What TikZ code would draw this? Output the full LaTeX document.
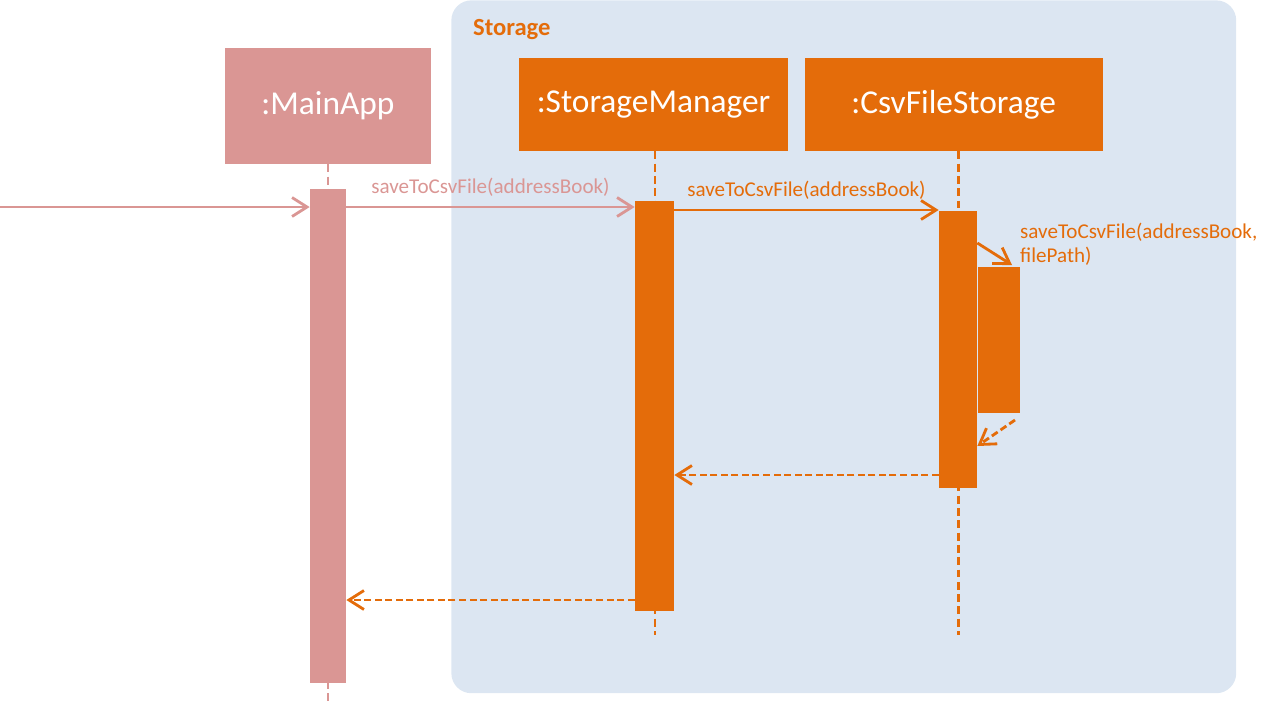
\documentclass[tikz,border=0pt]{standalone}
\usepackage{fontspec}
\setmainfont{Carlito}
\usetikzlibrary{positioning, arrows.meta}
\definecolor{mainpink}{RGB}{218,150,148}
\definecolor{storeorange}{RGB}{228,108,10}
\definecolor{storebg}{RGB}{220,230,242}

\begin{document}
\begin{tikzpicture}[
      x=0.02cm, y=-0.02cm,
      % 参加者の箱
      actor/.style={rectangle, text=white, inner sep=0pt, minimum height=1.86cm, font=\fontsize{19}{21}\selectfont},
      % 生存線と活性区間
      lifeline/.style={line width=1.6pt, dash pattern=on 4.5pt off 2.5pt},
      actbar/.style={rectangle, inner sep=0pt, anchor=north},
      % メッセージ矢印
      msg/.style={draw, line width=1.6pt, -{Straight Barb[length=3mm, width=3.8mm]}},
      reply/.style={msg, dash pattern=on 4pt off 2pt},
      msglabel/.style={font=\fontsize{12}{13.6}\selectfont}
    ]

    \useasboundingbox (0,0) rectangle (1274,708);

    % --- 背景：Storage ---
    \node [rectangle, fill=storebg, rounded corners=0.4cm, inner sep=0pt, minimum width=15.7cm, minimum height=13.86cm, anchor=north west] (storageBox) at (451,0) {};
    \node [anchor=west, text=storeorange, font=\bfseries\fontsize{14}{16}\selectfont] (storageTitle) at (467,30) {Storage};

    % --- 参加者 ---
    \node [actor, fill=mainpink, minimum width=4.12cm, minimum height=2.32cm] (mainBox) at (328,106) {:MainApp};
    \node [actor, fill=storeorange, minimum width=5.38cm] (smBox) at (653.5,104.5) {:StorageManager};
    \node [actor, fill=storeorange, minimum width=5.96cm, right=0.32cm of smBox] (cfsBox) {:CsvFileStorage};

    % --- 生存線 ---
    \draw [lifeline, mainpink] (mainBox.south) -- ++(0,541);
    \draw [lifeline, storeorange] (smBox.south) ++(1.5,0) -- ++(0,484);
    \draw [lifeline, storeorange] (cfsBox.south) ++(5,0) -- ++(0,484);

    % --- 活性区間 ---
    \node [actbar, fill=mainpink, minimum width=0.72cm, minimum height=9.88cm] (mainAct) at (328,189) {};
    \node [actbar, fill=storeorange, minimum width=0.78cm, minimum height=8.2cm] (smAct) at (654.5,201) {};
    \node [actbar, fill=storeorange, minimum width=0.76cm, minimum height=5.54cm] (cfsAct) at (958,211) {};
    \node [actbar, fill=storeorange, minimum width=0.84cm, minimum height=2.92cm, anchor=north west] (nestAct) at (cfsAct.east |- 0,267) {};

    % --- メッセージ ---
    \coordinate (entry) at (0,207);
    \draw [msg, mainpink] (entry) -- (mainAct.west |- entry);
    \draw [msg, mainpink] (mainAct.east |- entry) -- node[above=2pt, msglabel, text=mainpink] {saveToCsvFile(addressBook)} (smAct.west |- entry);
    \draw [msg, storeorange] (smAct.east |- 0,210) -- node[above=2pt, msglabel, text=storeorange] {saveToCsvFile(addressBook)} (cfsAct.west |- 0,210);
    \coordinate (selfTip) at (1012,265);
    \draw [msg, storeorange] (cfsAct.east |- 0,243) -- (selfTip);
    \node [anchor=north west, align=left, msglabel, text=storeorange] (selfLabel) at (1014,217) {saveToCsvFile(addressBook,\\filePath)};

    % 戻り
    \coordinate (nestRet) at (1015,420);
    \draw [reply, storeorange] (nestRet) -- (cfsAct.east |- 0,446);
    \draw [reply, storeorange] (cfsAct.west |- 0,475) -- (smAct.east |- 0,475);
    \draw [reply, storeorange] (smAct.west |- 0,600) -- (mainAct.east |- 0,600);

    \end{tikzpicture}
\end{document}
